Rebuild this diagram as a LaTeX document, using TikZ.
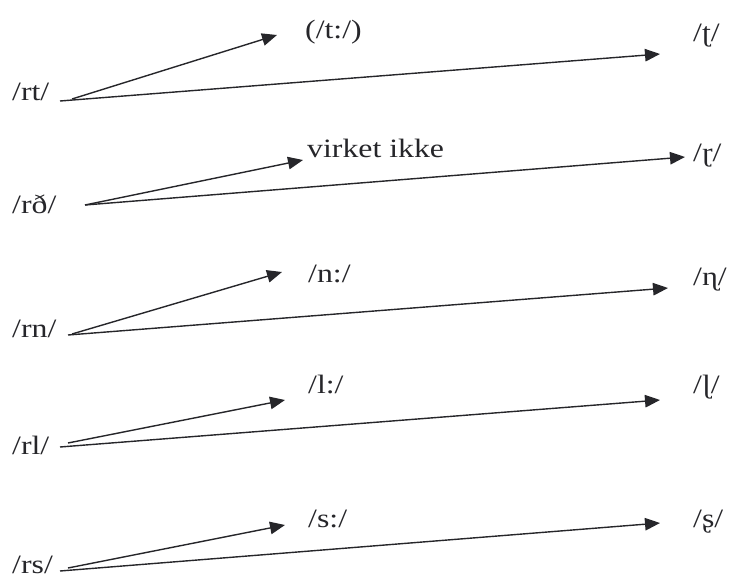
\documentclass[tikz,border=0pt]{standalone}
\usepackage{fontspec}
\setmainfont{Liberation Serif}
\usetikzlibrary{arrows.meta}
\newcommand\wtx[1]{\scalebox{1.2}[1]{#1}}
\definecolor{ink}{HTML}{26262A}
\tikzset{
  lab/.style={inner sep=0pt, anchor=base west, text=ink, font=\fontsize{26.5}{30}\selectfont},
  arr/.style={draw=ink, line width=1.4pt, -{Triangle[length=15pt,width=12.5pt]}},
}
\begin{document}
\begin{tikzpicture}[x=1pt,y=-1pt]
\useasboundingbox (0,0) rectangle (733,580);
% left labels
\node[lab] (rt) at (12,101) {\wtx{/rt/}};
\node[lab] (rd) at (12,213) {\wtx{/rð/}};
\node[lab] (rn) at (12,337) {\wtx{/rn/}};
\node[lab] (rl) at (12,454) {\wtx{/rl/}};
\node[lab] (rs) at (12,573) {\wtx{/rs/}};
% middle labels
\node[lab] (tt) at (305,39) {\wtx{(/t:/)}};
\node[lab] (vi) at (307,158) {\wtx{virket ikke}};
\node[lab] (nn) at (308,282) {\wtx{/n:/}};
\node[lab] (ll) at (308,393) {\wtx{/l:/}};
\node[lab] (ss) at (308,527) {\wtx{/s:/}};
% right labels
\node[lab] (rt2) at (693,42) {\wtx{/ʈ/}};
\node[lab] (rd2) at (693,162) {\wtx{/ɽ/}};
\node[lab] (rn2) at (693,285) {\wtx{/ɳ/}};
\node[lab] (rl2) at (693,393) {\wtx{/ɭ/}};
\node[lab] (rs2) at (693,527) {\wtx{/ʂ/}};
% start and end points
\coordinate (a1s) at (72,99);  \coordinate (a1e) at (277,35);
\coordinate (b1s) at (60,101); \coordinate (b1e) at (660,54);
\coordinate (a2s) at (85,205); \coordinate (a2e) at (303,160);
\coordinate (b2s) at (85,205); \coordinate (b2e) at (685,157);
\coordinate (a3s) at (72,334); \coordinate (a3e) at (282,272);
\coordinate (b3s) at (68,335); \coordinate (b3e) at (668,288);
\coordinate (a4s) at (68,443); \coordinate (a4e) at (285,400);
\coordinate (b4s) at (60,447); \coordinate (b4e) at (660,400);
\coordinate (a5s) at (68,568); \coordinate (a5e) at (285,525);
\coordinate (b5s) at (60,571); \coordinate (b5e) at (660,523);
\foreach \i in {1,...,5}{
  \draw[arr] (a\i s) -- (a\i e);
  \draw[arr] (b\i s) -- (b\i e);
}
\end{tikzpicture}
\end{document}
